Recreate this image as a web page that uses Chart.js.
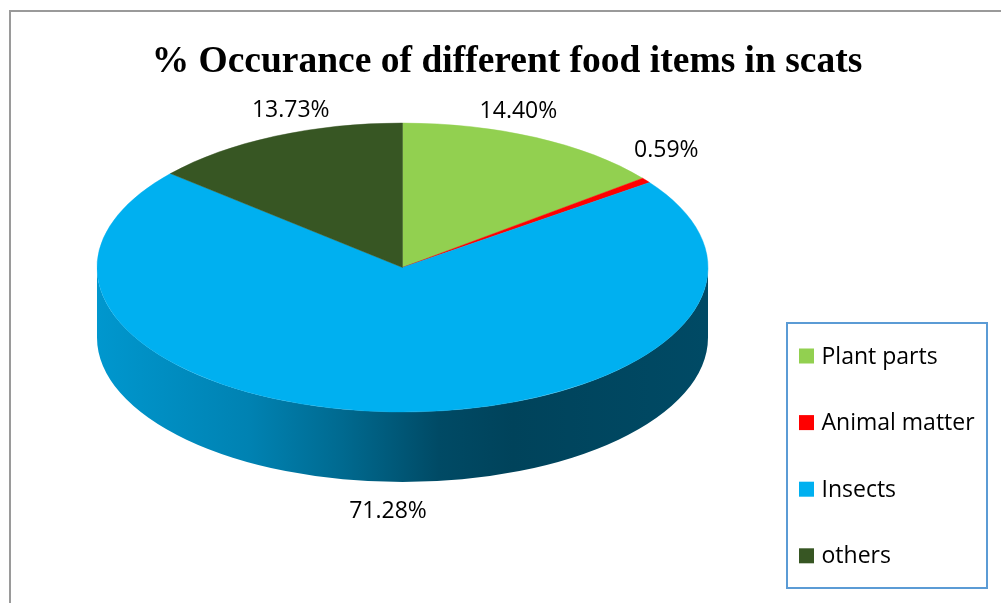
<!DOCTYPE html>
<html>
<head>
<meta charset="utf-8">
<style>
  html, body { margin: 0; padding: 0; background: #ffffff; }
  #wrap { position: relative; width: 1001px; height: 603px; overflow: hidden; }
  #frame { position: absolute; left: 9px; top: 10px; right: -5px; bottom: -5px;
           border-top: 2px solid #9a9a9a; border-left: 2px solid #9a9a9a; }
  canvas { position: absolute; left: 0; top: 0; }
</style>
<script src="https://cdn.jsdelivr.net/npm/chart.js@4.4.1/dist/chart.umd.min.js"></script>
</head>
<body>
<div id="wrap">
  <div id="frame"></div>
  <canvas id="c" width="1001" height="603"></canvas>
</div>
<script>
// ---- data ----
const categories = ['Plant parts', 'Animal matter', 'Insects', 'others'];
const values = [14.40, 0.59, 71.28, 13.73];
const valueLabels = ['14.40%', '0.59%', '71.28%', '13.73%'];
const colors = ['#92d050', '#ff0000', '#00b0f0', '#375623'];
const titleText = '% Occurance of different food items in scats';

// ---- layout / style ----
const G = { cx: 402.5, cy: 267.5, rx: 305.5, ry: 144.5, depth: 70 };
// perspective view used to place the value labels around the rim
const P = { x0: 402, y0: 246, a: 302, b: 141.3, k: -0.1488 };
const LEG = { left: 787, top: 323, width: 200, height: 265, boxX: 799, box: 15,
              textX: 821.5, firstRow: 356, rowGap: 66.6 };
const labelFont = '23px "Open Sans", "Liberation Sans", sans-serif';

function shade(hex, f) {
  const n = parseInt(hex.slice(1), 16);
  const r = Math.round(((n >> 16) & 255) * f);
  const g = Math.round(((n >> 8) & 255) * f);
  const b = Math.round((n & 255) * f);
  return 'rgb(' + r + ',' + g + ',' + b + ')';
}

const pie3d = {
  id: 'pie3d',
  beforeDatasetsDraw(chart) {
    const ctx = chart.ctx;
    const meta = chart.getDatasetMeta(0);
    const a0 = meta.data[0];
    const R = a0.outerRadius, ox = a0.x, oy = a0.y;
    const d = G.depth * R / G.ry;
    // side walls of the front-facing parts of each slice
    meta.data.forEach((arc, i) => {
      const s = Math.max(arc.startAngle, 0);
      const e = Math.min(arc.endAngle, Math.PI);
      if (e <= s) return;
      ctx.save();
      ctx.translate(G.cx, G.cy);
      ctx.scale(G.rx / R, G.ry / R);
      ctx.translate(-ox, -oy);
      ctx.beginPath();
      ctx.arc(ox, oy, R, s, e, false);
      ctx.arc(ox, oy + d, R, e, s, true);
      ctx.closePath();
      ctx.restore();
      const gr = ctx.createLinearGradient(G.cx - G.rx, 0, G.cx + G.rx, 0);
      const base = colors[i];
      gr.addColorStop(0, shade(base, 0.86));
      gr.addColorStop(0.25, shade(base, 0.74));
      gr.addColorStop(0.4, shade(base, 0.6));
      gr.addColorStop(0.56, shade(base, 0.42));
      gr.addColorStop(0.68, shade(base, 0.38));
      gr.addColorStop(1, shade(base, 0.42));
      ctx.fillStyle = gr;
      ctx.fill();
    });
    // squash the pie into the top-face ellipse
    ctx.save();
    ctx.translate(G.cx, G.cy);
    ctx.scale(G.rx / R, G.ry / R);
    ctx.translate(-ox, -oy);
  },
  afterDatasetsDraw(chart) {
    const ctx = chart.ctx;
    ctx.restore();
    const meta = chart.getDatasetMeta(0);
    ctx.save();
    ctx.font = labelFont;
    ctx.fillStyle = '#000000';
    ctx.textBaseline = 'middle';
    meta.data.forEach((arc, i) => {
      const t = (arc.startAngle + arc.endAngle) / 2;
      const u = Math.cos(t), v = Math.sin(t);
      const den = 1 + P.k * v;
      let x = P.x0 + P.a * u / den;
      let y = P.y0 + P.b * v / den;
      if (u > 0.7) { ctx.textAlign = 'left'; x += 11; y -= 17; }
      else if (u < -0.7) { ctx.textAlign = 'right'; x -= 11; y -= 17; }
      else { ctx.textAlign = 'center'; y += (v > 0 ? G.depth + 30 : -22); }
      ctx.fillText(valueLabels[i], x, y);
    });
    ctx.restore();
  },
  afterDraw(chart) {
    const ctx = chart.ctx;
    ctx.save();
    ctx.strokeStyle = '#5b9bd5';
    ctx.lineWidth = 2;
    ctx.strokeRect(LEG.left, LEG.top, LEG.width, LEG.height);
    ctx.font = labelFont;
    ctx.textBaseline = 'middle';
    ctx.textAlign = 'left';
    categories.forEach((name, i) => {
      const yc = LEG.firstRow + i * LEG.rowGap;
      ctx.fillStyle = colors[i];
      ctx.fillRect(LEG.boxX, yc - LEG.box / 2, LEG.box, LEG.box);
      ctx.fillStyle = '#000000';
      ctx.fillText(name, LEG.textX, yc + 1);
    });
    ctx.restore();
  }
};

new Chart(document.getElementById('c'), {
  type: 'pie',
  data: {
    labels: categories,
    datasets: [{
      data: values,
      backgroundColor: colors,
      borderColor: colors,
      borderWidth: 0.5,
      clip: false
    }]
  },
  options: {
    responsive: false,
    animation: false,
    events: [],
    layout: { padding: { left: 25, right: 12, top: 0, bottom: 10 } },
    plugins: {
      legend: { display: false },
      tooltip: { enabled: false },
      title: {
        display: true,
        text: titleText,
        color: '#000000',
        font: { family: '"Liberation Serif", "Times New Roman", serif', size: 37.5, weight: 'bold' },
        padding: { top: 40, bottom: 10 }
      }
    }
  },
  plugins: [pie3d]
});
</script>
</body>
</html>
